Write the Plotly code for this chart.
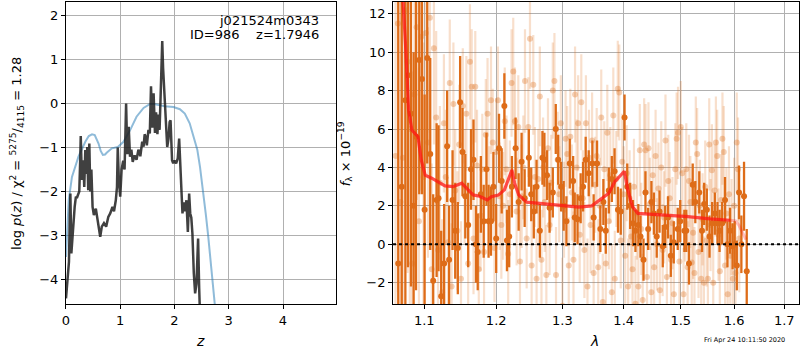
import plotly.graph_objects as go

# ---------------- left panel: log p(z) ----------------
z_pz = [0.000, 0.018, 0.037, 0.055, 0.070, 0.081, 0.099, 0.123, 0.160, 0.183, 0.200, 0.220, 0.245,
        0.262, 0.272, 0.294, 0.318, 0.337, 0.356, 0.374, 0.392, 0.410, 0.430, 0.448, 0.468, 0.490,
        0.514, 0.550, 0.587, 0.631, 0.660, 0.700, 0.740, 0.780, 0.815, 0.857, 0.885, 0.918, 0.940,
        0.954, 0.975, 1.000, 1.025, 1.055, 1.080, 1.108, 1.130, 1.156, 1.180, 1.205, 1.230, 1.265,
        1.300, 1.335, 1.370, 1.405, 1.430, 1.450, 1.468, 1.490, 1.520, 1.545, 1.567, 1.590, 1.615,
        1.640, 1.660, 1.685, 1.705, 1.725, 1.745, 1.760, 1.774, 1.790, 1.810, 1.824, 1.845, 1.866,
        1.890, 1.910, 1.927, 1.955, 1.976, 2.000, 2.030, 2.060, 2.086, 2.110, 2.130, 2.147, 2.170,
        2.195, 2.220, 2.246, 2.270, 2.290, 2.310, 2.330, 2.356, 2.380, 2.405, 2.435, 2.455, 2.470]
logp = [-4.43, -4.17, -3.86, -3.60, -2.60, -2.05, -3.41, -2.95, -2.35, -2.12, -2.15, -2.08, -2.00,
        -1.30, -0.74, -1.74, -1.29, -1.90, -1.06, -1.60, -0.99, -1.97, -0.91, -2.00, -1.50, -2.35,
        -2.54, -2.39, -2.73, -3.03, -2.80, -2.72, -2.80, -2.58, -2.50, -2.35, -2.45, -2.20, -1.90,
        -1.00, -1.75, -2.12, -1.50, -1.30, -1.50, 0.00, -1.15, -0.53, -1.21, -1.05, -1.33, -1.18,
        -1.28, -1.05, -1.20, -0.87, -0.98, -0.70, -0.76, -0.95, -0.60, -0.68, 0.39, -0.55, 0.23,
        -0.67, -0.20, -0.70, -0.25, -0.60, 0.20, 0.90, 1.42, 0.80, 0.15, 0.00, -0.50, -0.99,
        -0.80, -0.42, -0.38, -1.29, -1.36, -1.30, -1.36, -1.25, -0.80, -1.60, -2.20, -2.50, -2.25,
        -2.45, -2.20, -2.92, -2.05, -2.50, -2.60, -2.95, -3.86, -4.32, -4.10, -3.07, -4.20, -4.80]

z_prior = [0.000, 0.030, 0.050, 0.110, 0.230, 0.356, 0.420, 0.480, 0.530, 0.600, 0.640, 0.680,
           0.720, 0.750, 0.845, 0.955, 1.060, 1.180, 1.300, 1.430, 1.550, 1.620, 1.700, 1.820,
           1.980, 2.100, 2.190, 2.280, 2.350, 2.420, 2.470, 2.530, 2.580, 2.620, 2.660, 2.700,
           2.750, 2.800]
logprior = [-3.49, -2.50, -2.20, -1.67, -1.21, -0.87, -0.74, -0.70, -0.72, -0.91, -1.08, -1.17,
            -1.16, -1.12, -1.02, -0.99, -0.87, -0.61, -0.30, -0.10, -0.01, -0.01, -0.03, -0.06,
            -0.08, -0.13, -0.23, -0.45, -0.75, -1.05, -1.44, -2.00, -2.55, -3.00, -3.50, -4.00,
            -4.60, -5.30]

z_ticks = [0, 1, 2, 3, 4]
pz_ticks = [-4, -3, -2, -1, 0, 1, 2]

# ---------------- right panel: spectrum ----------------
wave_dark = [1.0660, 1.0705, 1.0752, 1.0786, 1.0825, 1.0860, 1.0891, 1.0934, 1.0970, 1.1005,
             1.1040, 1.1080, 1.1120, 1.1166, 1.1192, 1.1228, 1.1268, 1.1309, 1.1336, 1.1383,
             1.1420, 1.1456, 1.1488, 1.1521, 1.1560, 1.1600, 1.1640, 1.1675, 1.1710, 1.1735,
             1.1780, 1.1820, 1.1860, 1.1890, 1.1925, 1.1960, 1.2000, 1.2041, 1.2080, 1.2119,
             1.2157, 1.2190, 1.2230, 1.2285, 1.2330, 1.2374, 1.2420, 1.2483, 1.2519, 1.2558,
             1.2600, 1.2650, 1.2690, 1.2720, 1.2760, 1.2800, 1.2850, 1.2896, 1.2934, 1.2980,
             1.3020, 1.3063, 1.3116, 1.3170, 1.3195, 1.3240, 1.3290, 1.3329, 1.3371, 1.3420,
             1.3480, 1.3500, 1.3556, 1.3610, 1.3660, 1.3700, 1.3750, 1.3800, 1.3846, 1.3903,
             1.3950, 1.4014, 1.4060, 1.4110, 1.4157, 1.4200, 1.4250, 1.4287, 1.4339, 1.4373,
             1.4420, 1.4477, 1.4520, 1.4570, 1.4620, 1.4677, 1.4720, 1.4770, 1.4820, 1.4873,
             1.4945, 1.4990, 1.5065, 1.5100, 1.5150, 1.5218, 1.5266, 1.5339, 1.5390, 1.5430,
             1.5480, 1.5530, 1.5580, 1.5630, 1.5680, 1.5720, 1.5770, 1.5824, 1.5870, 1.5920,
             1.5970, 1.6010, 1.6051, 1.6095, 1.6140, 1.6192, 1.6245]
flux_dark = [-1.0, 3.0, 7.5, 8.8, 6.8, 2.0, 5.6, 9.6, 8.6, 1.8,
             9.7, 4.7, -1.9, 2.3, 2.4, -2.7, -1.0, 5.1, -0.8, 2.3,
             0.7, -0.2, 7.4, 4.8, 2.5, 1.0, 3.9, 4.4, 0.0, -0.4,
             2.6, 1.2, 3.9, 1.2, 1.2, 3.0, 0.3, 5.0, 3.3, 7.2,
             0.2, 0.4, 3.0, 5.0, 2.2, 4.3, 2.4, 4.5, 2.6, 1.7,
             3.0, 0.7, 4.5, 4.4, 3.6, 1.9, 2.7, 6.0, 4.4, 3.0,
             2.0, 1.2, 4.2, 3.3, 1.4, 1.3, 2.4, 3.0, 4.4, 3.7,
             4.2, 1.4, 4.2, 0.8, 2.2, 0.7, 2.8, 3.4, 3.8, 1.8,
             1.7, 6.6, 3.0, 2.0, 1.1, 0.7, 1.0, 0.4, -0.8, 2.7,
             0.8, 2.2, 1.6, 0.4, 1.7, -0.1, 0.9, 1.4, -0.6, 0.1,
             0.8, 1.2, 0.7, 0.7, -1.0, 3.1, 2.2, 2.7, 0.7, 2.1,
             1.8, 0.4, 1.1, 1.6, 1.1, 0.7, 1.1, 2.3, 0.0, 0.7,
             -0.1, 0.0, -1.1, 2.7, 0.0, 2.5, -1.4]
err_dark = [15.0, 13.0, 12.0, 10.0, 9.0, 8.0, 8.0, 7.0, 6.0, 6.0,
            5.5, 5.0, 4.5, 4.0, 3.8, 3.4, 3.1, 2.9, 2.8, 2.6,
            2.5, 2.4, 2.4, 2.3, 2.2, 2.2, 2.1, 2.1, 2.0, 2.0,
            2.0, 1.9, 1.9, 1.9, 1.8, 1.8, 1.8, 1.8, 1.7, 1.7,
            1.6, 1.6, 1.6, 1.6, 1.5, 1.5, 1.5, 1.5, 1.4, 1.4,
            1.4, 1.4, 1.4, 1.4, 1.3, 1.3, 1.3, 1.3, 1.3, 1.3,
            1.3, 1.3, 1.3, 1.3, 1.3, 1.3, 1.3, 1.3, 1.2, 1.2,
            1.2, 1.2, 1.2, 1.2, 1.2, 1.2, 1.2, 1.2, 1.2, 1.2,
            1.2, 1.2, 1.2, 1.2, 1.2, 1.1, 1.1, 1.1, 1.1, 1.1,
            1.1, 1.1, 1.1, 1.1, 1.1, 1.1, 1.1, 1.1, 1.1, 1.1,
            1.1, 1.1, 1.1, 1.1, 1.1, 1.1, 1.1, 1.1, 1.1, 1.1,
            1.1, 1.1, 1.1, 1.1, 1.1, 1.1, 1.1, 1.2, 1.2, 1.2,
            1.2, 1.2, 1.3, 1.4, 1.5, 1.8, 2.2]

wave_light = [1.0625, 1.0655, 1.0690, 1.0720, 1.0750, 1.0780, 1.0810, 1.0840, 1.0870, 1.0900,
              1.0930, 1.0960, 1.0990, 1.1020, 1.1050, 1.1075, 1.1100, 1.1130, 1.1160, 1.1185,
              1.1210, 1.1240, 1.1265, 1.1290, 1.1320, 1.1345, 1.1370, 1.1395, 1.1420, 1.1450,
              1.1475, 1.1500, 1.1525, 1.1550, 1.1575, 1.1600, 1.1625, 1.1650, 1.1675, 1.1700,
              1.1725, 1.1750, 1.1775, 1.1800, 1.1825, 1.1850, 1.1875, 1.1900, 1.1925, 1.1950,
              1.1975, 1.2000, 1.2025, 1.2050, 1.2075, 1.2100, 1.2125, 1.2150, 1.2175, 1.2200,
              1.2225, 1.2250, 1.2275, 1.2300, 1.2325, 1.2350, 1.2375, 1.2400, 1.2425, 1.2450,
              1.2475, 1.2500, 1.2525, 1.2550, 1.2575, 1.2600, 1.2625, 1.2650, 1.2675, 1.2700,
              1.2725, 1.2750, 1.2775, 1.2800, 1.2825, 1.2850, 1.2875, 1.2900, 1.2925, 1.2950,
              1.2975, 1.3000, 1.3025, 1.3050, 1.3075, 1.3100, 1.3125, 1.3150, 1.3175, 1.3200,
              1.3225, 1.3250, 1.3275, 1.3300, 1.3325, 1.3350, 1.3375, 1.3400, 1.3425, 1.3450,
              1.3475, 1.3500, 1.3525, 1.3550, 1.3575, 1.3600, 1.3625, 1.3650, 1.3675, 1.3700,
              1.3725, 1.3750, 1.3775, 1.3800, 1.3825, 1.3850, 1.3875, 1.3900, 1.3925, 1.3950,
              1.3975, 1.4000, 1.4025, 1.4050, 1.4075, 1.4100, 1.4125, 1.4150, 1.4175, 1.4200,
              1.4225, 1.4250, 1.4275, 1.4300, 1.4325, 1.4350, 1.4375, 1.4400, 1.4425, 1.4450,
              1.4475, 1.4500, 1.4525, 1.4550, 1.4575, 1.4600, 1.4625, 1.4650, 1.4675, 1.4700,
              1.4725, 1.4750, 1.4775, 1.4800, 1.4825, 1.4850, 1.4875, 1.4900, 1.4925, 1.4950,
              1.4975, 1.5000, 1.5025, 1.5050, 1.5075, 1.5100, 1.5125, 1.5150, 1.5175, 1.5200,
              1.5225, 1.5250, 1.5275, 1.5300, 1.5325, 1.5350, 1.5375, 1.5400, 1.5425, 1.5450,
              1.5475, 1.5500, 1.5525, 1.5550, 1.5575, 1.5600, 1.5625, 1.5650, 1.5675, 1.5700,
              1.5725, 1.5750, 1.5775, 1.5800, 1.5825, 1.5850, 1.5875, 1.5900, 1.5925, 1.5950,
              1.5975, 1.6000, 1.6025, 1.6050, 1.6075, 1.6100]
flux_light = [4.6, 11.5, 2.2, 4.5, 12.2, 9.5, 6.0, -1.0, 7.8, 11.3,
              1.2, 10.8, 3.5, 11.0, 5.3, 11.8, -1.3, 10.2, 6.6, -0.3,
              3.2, -2.5, 6.3, 3.5, 0.1, 8.4, -2.2, 7.3, 2.8, 0.7,
              5.2, -1.8, 7.2, 3.0, 6.8, -1.0, 9.5, 8.2, 0.3, 8.2,
              4.1, -1.3, 1.5, 3.9, -0.4, 5.7, 6.8, 2.3, 7.5, 5.3,
              -0.2, 4.8, 7.5, 2.5, 1.0, 2.0, 6.4, 3.9, -0.5, 2.6,
              8.4, 9.0, 6.4, 1.7, 6.1, -0.9, 2.5, 4.0, 8.5, 0.3,
              6.1, 10.7, -1.1, 8.3, 3.5, -1.8, 3.4, 7.7, -0.8, 4.0,
              2.2, -1.6, 5.0, 1.0, 3.2, 8.0, 8.5, -1.6, 4.4, 2.6,
              6.3, -3.2, 1.8, 5.5, 4.7, -1.1, 5.6, 2.7, -0.8, 7.8,
              4.0, 6.3, 0.5, 7.4, 2.4, -0.3, 6.3, -2.2, 4.5, 1.0,
              5.4, -1.5, 3.1, 4.6, -1.2, 2.0, 6.6, -3.0, 3.9, -1.0,
              5.8, 1.2, 3.6, -2.5, 6.7, -1.8, 3.4, 8.1, 7.9, 0.2,
              4.3, 2.6, -0.6, 3.7, -2.2, 2.4, 0.4, -1.3, 3.0, -3.1,
              1.6, -2.2, 4.9, 0.8, -2.9, 5.2, 4.9, -1.7, 5.0, 2.1,
              -2.5, 3.6, -1.2, 4.6, 0.0, 2.9, -2.4, 4.0, -0.3, 1.4,
              5.4, -1.7, 3.3, 2.4, -0.8, 1.1, -2.6, 3.9, 5.5, 5.8,
              -0.9, 6.1, 3.7, -2.6, 1.5, 3.9, -1.2, 3.3, 2.2, -0.95,
              0.6, -1.5, 5.3, 4.7, -0.4, 2.0, -1.8, 1.3, -2.0, 3.0,
              0.2, -1.8, 5.2, 1.0, 3.85, -2.0, 2.8, 5.3, 4.6, 0.5,
              -1.4, 2.3, 5.5, 4.8, -1.1, 1.6, -2.6, 2.6, -0.6, 0.9,
              -1.8, 2.0, -1.5, 5.3, 3.9, 0.3]
err_light = [14.0, 14.0, 13.0, 12.0, 12.0, 11.0, 10.0, 10.0, 9.0, 9.0,
             8.0, 8.0, 7.0, 7.0, 6.0, 6.0, 5.5, 5.0, 4.5, 4.2,
             4.0, 3.8, 3.6, 3.5, 3.4, 3.3, 3.3, 3.2, 3.2, 3.1,
             3.1, 3.0, 3.0, 3.0, 3.0, 3.0, 3.0, 3.0, 2.9, 2.9,
             2.9, 2.9, 2.9, 2.9, 2.9, 2.9, 2.9, 2.8, 2.8, 2.8,
             2.8, 2.8, 2.8, 2.8, 2.8, 2.8, 2.8, 2.8, 2.8, 2.8,
             2.8, 2.8, 2.8, 2.8, 2.7, 2.7, 2.7, 2.7, 2.7, 2.6,
             2.6, 2.6, 2.6, 2.6, 2.6, 2.6, 2.6, 2.6, 2.6, 2.6,
             2.6, 2.6, 2.6, 2.6, 2.5, 2.5, 2.5, 2.5, 2.5, 2.5,
             2.5, 2.5, 2.5, 2.5, 2.5, 2.5, 2.5, 2.5, 2.5, 2.5,
             2.5, 2.5, 2.5, 2.5, 2.5, 2.5, 2.5, 2.5, 2.5, 2.5,
             2.5, 2.5, 2.5, 2.5, 2.5, 2.5, 2.5, 2.5, 2.5, 2.5,
             2.5, 2.5, 2.5, 2.5, 2.5, 2.5, 2.5, 2.5, 2.5, 2.5,
             2.5, 2.5, 2.5, 2.5, 2.5, 2.5, 2.5, 2.5, 2.5, 2.5,
             2.4, 2.4, 2.4, 2.4, 2.4, 2.4, 2.4, 2.4, 2.4, 2.4,
             2.4, 2.4, 2.4, 2.4, 2.4, 2.4, 2.4, 2.4, 2.4, 2.4,
             2.4, 2.4, 2.4, 2.4, 2.4, 2.4, 2.4, 2.4, 2.4, 2.4,
             2.4, 2.4, 2.4, 2.4, 2.4, 2.4, 2.4, 2.4, 2.4, 2.4,
             2.4, 2.4, 2.4, 2.4, 2.4, 2.4, 2.4, 2.4, 2.4, 2.4,
             2.4, 2.4, 2.4, 2.4, 2.4, 2.4, 2.4, 2.4, 2.4, 2.4,
             2.4, 2.4, 2.4, 2.4, 2.4, 2.4, 2.4, 2.5, 2.5, 2.5,
             2.5, 2.5, 2.6, 2.6, 2.7, 2.8]

wave_model = [1.0660, 1.0720, 1.0758, 1.0794, 1.0837, 1.0917, 1.0960, 1.1013, 1.1100, 1.1280,
              1.1390, 1.1510, 1.1600, 1.1670, 1.1760, 1.1870, 1.1930, 1.2030, 1.2120, 1.2190,
              1.2230, 1.2270, 1.2330, 1.2450, 1.2740, 1.3000, 1.3260, 1.3470, 1.3610, 1.3750,
              1.3850, 1.3970, 1.4010, 1.4070, 1.4150, 1.4240, 1.4670, 1.5130, 1.5540, 1.5920]
flux_model = [16.0, 12.8, 10.1, 7.0, 5.95, 5.6, 4.39, 3.6, 3.44, 3.04,
              3.0, 3.18, 2.83, 2.57, 2.5, 2.31, 2.48, 2.56, 2.83, 3.52,
              3.87, 3.18, 2.57, 2.19, 2.10, 2.0, 1.93, 2.0, 2.31, 2.66,
              3.26, 3.70, 3.80, 2.83, 1.96, 1.61, 1.53, 1.44, 1.32, 1.25]
wave_tail = [1.5920, 1.6030, 1.6090, 1.6160, 1.6230]
flux_tail = [1.25, 1.22, 1.00, 0.60, 0.25]

wave_ticks = [1.1, 1.2, 1.3, 1.4, 1.5, 1.6, 1.7]
flux_ticks = [-2, 0, 2, 4, 6, 8, 10, 12]

# ---------------- styling ----------------
FONT = "DejaVu Sans"
ORANGE = "rgb(222,108,24)"
ORANGE_L = "rgba(222,108,24,0.22)"

def lab(v):
    s = f"{v:g}"
    return s.replace("-", "\u2212")

fig = go.Figure()

fig.add_trace(go.Scatter(x=z_prior, y=logprior, mode="lines",
                         line=dict(color="rgba(31,119,180,0.5)", width=2),
                         xaxis="x", yaxis="y", showlegend=False))
fig.add_trace(go.Scatter(x=z_pz, y=logp, mode="lines",
                         line=dict(color="rgba(30,30,30,0.85)", width=2.5),
                         xaxis="x", yaxis="y", showlegend=False))

fig.add_trace(go.Scatter(x=wave_light, y=flux_light, mode="markers",
                         marker=dict(color="rgba(222,108,24,0.32)", size=6, line=dict(width=0)),
                         error_y=dict(type="data", array=err_light, color=ORANGE_L,
                                      thickness=2.2, width=0),
                         xaxis="x2", yaxis="y2", showlegend=False))
fig.add_trace(go.Scatter(x=wave_dark, y=flux_dark, mode="markers",
                         marker=dict(color=ORANGE, size=6, line=dict(width=0)),
                         error_y=dict(type="data", array=err_dark, color=ORANGE,
                                      thickness=2.3, width=0),
                         xaxis="x2", yaxis="y2", showlegend=False))
fig.add_trace(go.Scatter(x=wave_tail, y=flux_tail, mode="lines",
                         line=dict(color="rgba(255,0,0,0.25)", width=3),
                         xaxis="x2", yaxis="y2", showlegend=False))
fig.add_trace(go.Scatter(x=wave_model, y=flux_model, mode="lines",
                         line=dict(color="rgba(255,20,20,0.75)", width=3.2),
                         xaxis="x2", yaxis="y2", showlegend=False))

axis_common = dict(showline=True, linecolor="black", linewidth=1, mirror=True,
                   ticks="outside", ticklen=4, tickcolor="black", tickwidth=1,
                   showgrid=True, gridcolor="#b0b0b0", gridwidth=1, zeroline=False,
                   tickfont=dict(family=FONT, size=13, color="black"))

fig.update_layout(
    width=800, height=350,
    margin=dict(l=0, r=0, t=0, b=0),
    paper_bgcolor="white", plot_bgcolor="white",
    font=dict(family=FONT, color="black"),
    xaxis=dict(domain=[62.3 / 800, 333.3 / 800], range=[0, 4.97], anchor="y",
               tickvals=z_ticks, ticktext=[lab(v) for v in z_ticks], **axis_common),
    yaxis=dict(domain=[1 - 304 / 350, 1 - 1.5 / 350], range=[-4.56, 2.32], anchor="x",
               tickvals=pz_ticks, ticktext=[lab(v) for v in pz_ticks], **axis_common),
    xaxis2=dict(domain=[391 / 800, 798.5 / 800], type="log", range=[0.02502, 0.2379],
                anchor="y2", tickvals=wave_ticks, ticktext=[lab(v) for v in wave_ticks],
                **axis_common),
    yaxis2=dict(domain=[1 - 304 / 350, 1 - 1.5 / 350], range=[-3.11, 12.64], anchor="x2",
                tickvals=flux_ticks, ticktext=[lab(v) for v in flux_ticks], **axis_common),
)

# zero reference line across the spectrum panel
fig.add_shape(type="line", xref="x2 domain", yref="y2", x0=0, x1=1, y0=0, y1=0,
              line=dict(color="black", width=2, dash="dot"), layer="above")

ann = []
ann.append(dict(text="j021524m0343", x=319 / 800, y=1 - 20 / 350, xref="paper", yref="paper",
                xanchor="right", yanchor="middle", showarrow=False,
                font=dict(family=FONT, size=13, color="black")))
ann.append(dict(text="ID=986    z=1.7946", x=319 / 800, y=1 - 34.5 / 350, xref="paper", yref="paper",
                xanchor="right", yanchor="middle", showarrow=False,
                font=dict(family=FONT, size=13, color="black")))
ann.append(dict(text="<i>z</i>", x=197.5 / 800, y=1 - 341 / 350, xref="paper", yref="paper",
                xanchor="center", yanchor="middle", showarrow=False,
                font=dict(family=FONT, size=14, color="black")))
ann.append(dict(text="<i>λ</i>", x=593.5 / 800, y=1 - 341 / 350, xref="paper", yref="paper",
                xanchor="center", yanchor="middle", showarrow=False,
                font=dict(family=FONT, size=14, color="black")))
ann.append(dict(text="log <i>p</i>(<i>z</i>) / χ<sup>2</sup> = <sup>5275</sup>/<sub>4115</sub> = 1.28",
                x=13 / 800, y=1 - 153 / 350, xref="paper", yref="paper", textangle=-90,
                xanchor="center", yanchor="middle", showarrow=False,
                font=dict(family=FONT, size=13, color="black")))
ann.append(dict(text="<i>f</i><sub>λ</sub> × 10<sup>−19</sup>",
                x=343 / 800, y=1 - 154 / 350, xref="paper", yref="paper", textangle=-90,
                xanchor="center", yanchor="middle", showarrow=False,
                font=dict(family=FONT, size=13, color="black")))
ann.append(dict(text="Fri Apr 24 10:11:50 2020", x=744 / 800, y=1 - 339.5 / 350,
                xref="paper", yref="paper", xanchor="center", yanchor="middle",
                showarrow=False, font=dict(family=FONT, size=6.5, color="black")))
fig.update_layout(annotations=ann)

fig.write_html("out.html")
